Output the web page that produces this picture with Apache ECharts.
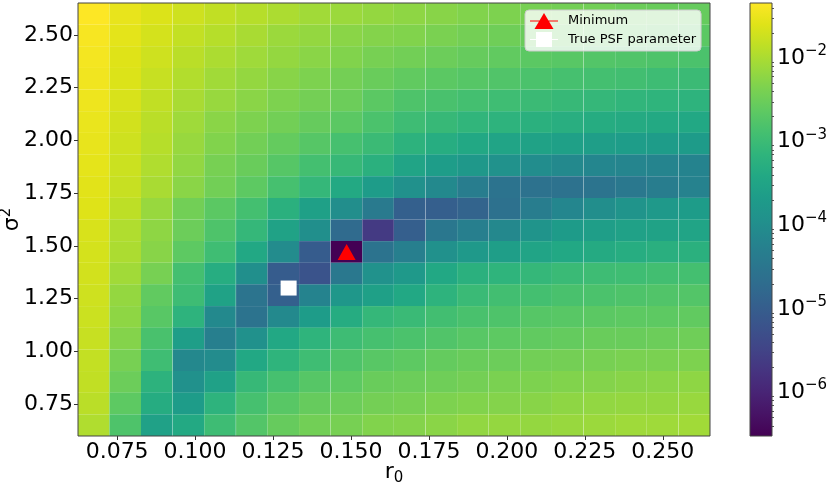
<!DOCTYPE html>
<html>
<head>
<meta charset="utf-8">
<script src="https://cdn.jsdelivr.net/npm/echarts@6.0.0/dist/echarts.min.js"></script>
<style>
  html, body { margin: 0; padding: 0; background: #fff; }
  #chart { width: 830px; height: 487px; }
</style>
</head>
<body>
<div id="chart"></div>
<script>
// grid of PSF parameters (cell centres)
const r0Values = [0.0675, 0.0776, 0.0877, 0.0979, 0.1080, 0.1182, 0.1283, 0.1384, 0.1486, 0.1587,
                  0.1688, 0.1790, 0.1891, 0.1993, 0.2094, 0.2195, 0.2297, 0.2398, 0.2499, 0.2601];
const sigma2Values = [0.650, 0.753, 0.855, 0.958, 1.061, 1.163, 1.266, 1.368, 1.471, 1.574,
                      1.676, 1.779, 1.882, 1.984, 2.087, 2.189, 2.292, 2.395, 2.497, 2.600];

// log10(loss), one row per sigma^2, top row (2.60) first
const logLoss = [
  [-1.34, -1.52, -1.62, -1.73, -1.83, -1.91, -1.99, -2.07, -2.12, -2.17, -2.22, -2.27, -2.32, -2.35, -2.40, -2.43, -2.45, -2.51, -2.53, -2.56],
  [-1.39, -1.56, -1.68, -1.81, -1.91, -2.01, -2.12, -2.17, -2.25, -2.30, -2.32, -2.38, -2.43, -2.48, -2.53, -2.56, -2.58, -2.61, -2.64, -2.66],
  [-1.42, -1.60, -1.73, -1.88, -1.99, -2.09, -2.17, -2.25, -2.32, -2.40, -2.45, -2.51, -2.56, -2.61, -2.66, -2.69, -2.74, -2.76, -2.79, -2.82],
  [-1.44, -1.62, -1.78, -1.94, -2.07, -2.17, -2.27, -2.35, -2.43, -2.53, -2.61, -2.66, -2.71, -2.76, -2.82, -2.87, -2.89, -2.92, -2.97, -3.00],
  [-1.47, -1.65, -1.83, -2.01, -2.14, -2.25, -2.35, -2.43, -2.51, -2.66, -2.79, -2.84, -2.89, -2.95, -3.00, -3.05, -3.08, -3.13, -3.15, -3.18],
  [-1.50, -1.70, -1.88, -2.09, -2.25, -2.35, -2.45, -2.56, -2.66, -2.82, -2.97, -3.05, -3.13, -3.18, -3.23, -3.28, -3.33, -3.36, -3.39, -3.41],
  [-1.52, -1.73, -1.91, -2.14, -2.32, -2.45, -2.58, -2.71, -2.87, -3.00, -3.20, -3.31, -3.41, -3.49, -3.54, -3.59, -3.62, -3.65, -3.67, -3.70],
  [-1.55, -1.75, -1.96, -2.19, -2.40, -2.53, -2.71, -2.89, -3.05, -3.23, -3.49, -3.65, -3.77, -3.90, -4.01, -4.09, -4.14, -4.16, -4.19, -4.21],
  [-1.57, -1.78, -2.01, -2.25, -2.45, -2.64, -2.87, -3.08, -3.39, -3.67, -3.93, -4.09, -4.34, -4.55, -4.58, -4.58, -4.53, -4.45, -4.34, -4.24],
  [-1.60, -1.86, -2.14, -2.45, -2.66, -2.89, -3.23, -3.59, -3.98, -4.40, -4.94, -4.97, -4.86, -4.60, -4.34, -4.14, -3.98, -3.85, -3.75, -3.67],
  [-1.65, -1.96, -2.22, -2.51, -2.79, -3.08, -3.54, -3.96, -4.73, -5.64, -4.97, -4.47, -4.29, -4.11, -3.85, -3.70, -3.62, -3.57, -3.54, -3.49],
  [-1.68, -1.99, -2.27, -2.64, -2.95, -3.41, -4.03, -5.02, -6.52, -4.55, -4.29, -3.93, -3.75, -3.62, -3.49, -3.41, -3.36, -3.31, -3.26, -3.23],
  [-1.70, -2.07, -2.40, -2.89, -3.31, -3.96, -5.02, -5.20, -4.45, -3.90, -3.75, -3.41, -3.23, -3.15, -3.08, -3.02, -2.97, -2.95, -2.92, -2.89],
  [-1.73, -2.17, -2.61, -2.97, -3.54, -4.53, -4.94, -4.21, -3.80, -3.59, -3.41, -3.18, -3.02, -2.92, -2.89, -2.84, -2.82, -2.79, -2.76, -2.74],
  [-1.75, -2.22, -2.69, -3.18, -4.09, -4.55, -4.09, -3.67, -3.33, -3.08, -3.02, -2.92, -2.84, -2.79, -2.71, -2.69, -2.66, -2.64, -2.64, -2.61],
  [-1.78, -2.30, -2.84, -3.62, -4.29, -3.93, -3.41, -3.15, -2.97, -2.87, -2.82, -2.76, -2.69, -2.64, -2.61, -2.58, -2.53, -2.53, -2.51, -2.48],
  [-1.81, -2.40, -2.95, -4.11, -4.03, -3.41, -3.15, -2.95, -2.79, -2.69, -2.64, -2.58, -2.53, -2.51, -2.45, -2.43, -2.40, -2.38, -2.38, -2.35],
  [-1.83, -2.51, -3.20, -3.93, -3.57, -3.05, -2.87, -2.71, -2.64, -2.53, -2.51, -2.48, -2.43, -2.38, -2.35, -2.32, -2.30, -2.27, -2.25, -2.22],
  [-1.88, -2.64, -3.33, -3.67, -3.18, -2.87, -2.69, -2.56, -2.51, -2.43, -2.40, -2.35, -2.32, -2.30, -2.27, -2.22, -2.19, -2.17, -2.17, -2.14],
  [-1.96, -2.79, -3.57, -3.39, -2.97, -2.74, -2.56, -2.45, -2.40, -2.32, -2.30, -2.25, -2.19, -2.17, -2.17, -2.14, -2.12, -2.09, -2.09, -2.07]
];

const minimumPoint = [0.1486, 1.471];
const truePoint = [0.130, 1.300];

const xTicks = [0.075, 0.100, 0.125, 0.150, 0.175, 0.200, 0.225, 0.250];
const yTicks = [0.75, 1.00, 1.25, 1.50, 1.75, 2.00, 2.25, 2.50];
const cbTicks = [-6, -5, -4, -3, -2];

const viridis = ['#440154', '#471365', '#482475', '#463480', '#414487', '#3b528b', '#355f8d',
  '#2f6c8e', '#2a788e', '#25848e', '#21918c', '#1e9c89', '#22a884', '#2fb47c', '#44bf70',
  '#5ec962', '#7ad151', '#9bd93c', '#bddf26', '#dfe318', '#fde725'];

const dx = r0Values[1] - r0Values[0];
const dy = sigma2Values[1] - sigma2Values[0];
const xMin = r0Values[0] - dx / 2, xMax = r0Values[r0Values.length - 1] + dx / 2;
const yMin = sigma2Values[0] - dy / 2, yMax = sigma2Values[sigma2Values.length - 1] + dy / 2;

const cells = [];
logLoss.forEach((row, i) => {
  const s = sigma2Values[sigma2Values.length - 1 - i];
  row.forEach((v, j) => cells.push([r0Values[j], s, v]));
});
const allLogs = cells.map(c => c[2]);
const minLog = Math.min(...allLogs);
const maxLog = Math.max(...allLogs);

// minor ticks of the log colour bar
const cbMinor = [];
for (let e = -7; e <= -1; e++) {
  for (let k = 2; k <= 9; k++) {
    const v = e + Math.log10(k);
    if (v > minLog && v < maxLog) cbMinor.push(v);
  }
}

const font = '"DejaVu Sans", sans-serif';
const chart = echarts.init(document.getElementById('chart'), null, { renderer: 'canvas' });

chart.setOption({
  animation: false,
  textStyle: { fontFamily: font },
  grid: [
    { left: 78, top: 3, width: 632, height: 433, show: true, z: 10, outerBoundsMode: 'none',
      containLabel: false, backgroundColor: 'transparent', borderColor: '#444', borderWidth: 1 },
    { left: 750, top: 3, width: 22, height: 433, show: true, z: 10, outerBoundsMode: 'none',
      containLabel: false, backgroundColor: 'transparent', borderColor: '#444', borderWidth: 1 }
  ],
  xAxis: [
    {
      gridIndex: 0, type: 'value', min: xMin, max: xMax,
      name: '{a|r}{b|0}', nameLocation: 'middle', nameGap: 23, nameMoveOverlap: false,
      nameTextStyle: { rich: {
        a: { fontSize: 22, fontFamily: font, color: '#000' },
        b: { fontSize: 15, fontFamily: font, color: '#000', padding: [12, 0, 0, 0] }
      } },
      splitLine: { show: false },
      axisLine: { show: false },
      axisTick: { customValues: xTicks, length: 4, lineStyle: { color: '#333' } },
      axisLabel: { customValues: xTicks, margin: 5, fontSize: 22, color: '#000', fontFamily: font,
                   formatter: v => v.toFixed(3) }
    },
    { gridIndex: 1, type: 'value', min: 0, max: 1, show: false }
  ],
  yAxis: [
    {
      gridIndex: 0, type: 'value', min: yMin, max: yMax,
      name: '{a|σ}{b|2}', nameLocation: 'middle', nameGap: 52, nameMoveOverlap: false,
      nameTextStyle: { rich: {
        a: { fontSize: 22, fontFamily: font, color: '#000' },
        b: { fontSize: 15, fontFamily: font, color: '#000', padding: [0, 0, 12, 0] }
      } },
      splitLine: { show: false },
      axisLine: { show: false },
      axisTick: { customValues: yTicks, length: 4, lineStyle: { color: '#333' } },
      axisLabel: { customValues: yTicks, margin: 5, fontSize: 22, color: '#000', fontFamily: font,
                   formatter: v => v.toFixed(2) }
    },
    {
      gridIndex: 1, type: 'value', min: minLog, max: maxLog, position: 'right',
      splitLine: { show: false },
      axisLine: { show: false },
      axisTick: { customValues: cbTicks, length: 4, lineStyle: { color: '#333' } },
      axisLabel: {
        customValues: cbTicks, margin: 5, color: '#000',
        formatter: v => '{b|10}{s|\u2212' + Math.abs(v) + '}',
        rich: {
          b: { fontSize: 22, fontFamily: font, color: '#000' },
          s: { fontSize: 15, fontFamily: font, color: '#000', padding: [0, 0, 14, 0] }
        }
      }
    },
    {
      gridIndex: 1, type: 'value', min: minLog, max: maxLog, position: 'right',
      splitLine: { show: false },
      axisLine: { show: false },
      axisLabel: { show: false },
      axisTick: { customValues: cbMinor, length: 2, lineStyle: { color: '#555' } }
    }
  ],
  visualMap: {
    show: false, type: 'continuous', seriesIndex: 0, dimension: 2,
    min: minLog, max: maxLog, inRange: { color: viridis }
  },
  legend: {
    left: 525, top: 10, orient: 'vertical', selectedMode: false,
    itemWidth: 28, itemHeight: 16, itemGap: 3,
    padding: [3, 5, 4, 5],
    backgroundColor: 'rgba(255,255,255,0.8)', borderColor: '#cccccc', borderWidth: 1, borderRadius: 4,
    textStyle: { fontSize: 13, fontFamily: font, color: '#000', padding: [0, 0, 0, 5] },
    data: [
      { name: 'Minimum', icon: 'path://M0,7.5L28,7.5L28,8.5L0,8.5Z M14,0L23.5,16L4.5,16Z' },
      { name: 'True PSF parameter', icon: 'path://M0,7.5L28,7.5L28,8.5L0,8.5Z M6,0.5L22,0.5L22,15.5L6,15.5Z' }
    ]
  },
  series: [
    {
      type: 'custom', xAxisIndex: 0, yAxisIndex: 0, clip: true,
      data: cells,
      renderItem: (params, api) => {
        const x = api.value(0), y = api.value(1);
        const p0 = api.coord([x - dx / 2, y + dy / 2]);
        const p1 = api.coord([x + dx / 2, y - dy / 2]);
        return {
          type: 'rect',
          shape: { x: p0[0], y: p0[1], width: p1[0] - p0[0], height: p1[1] - p0[1] },
          style: { fill: api.visual('color') }
        };
      }
    },
    {
      type: 'custom', xAxisIndex: 1, yAxisIndex: 1, silent: true,
      data: [[0.5, minLog]],
      renderItem: (params) => {
        const cs = params.coordSys;
        return {
          type: 'rect',
          shape: { x: cs.x, y: cs.y, width: cs.width, height: cs.height },
          style: {
            fill: new echarts.graphic.LinearGradient(0, 1, 0, 0,
              viridis.map((c, k) => ({ offset: k / (viridis.length - 1), color: c })))
          }
        };
      }
    },
    {
      name: 'Minimum', type: 'scatter', xAxisIndex: 0, yAxisIndex: 0, z: 5,
      symbol: 'triangle', symbolSize: [18, 16],
      itemStyle: { color: '#ff0000', opacity: 1 },
      data: [minimumPoint]
    },
    {
      name: 'True PSF parameter', type: 'scatter', xAxisIndex: 0, yAxisIndex: 0, z: 5,
      symbol: 'rect', symbolSize: [16, 15],
      itemStyle: { color: '#ffffff', opacity: 1 },
      data: [truePoint]
    }
  ]
});
</script>
</body>
</html>
